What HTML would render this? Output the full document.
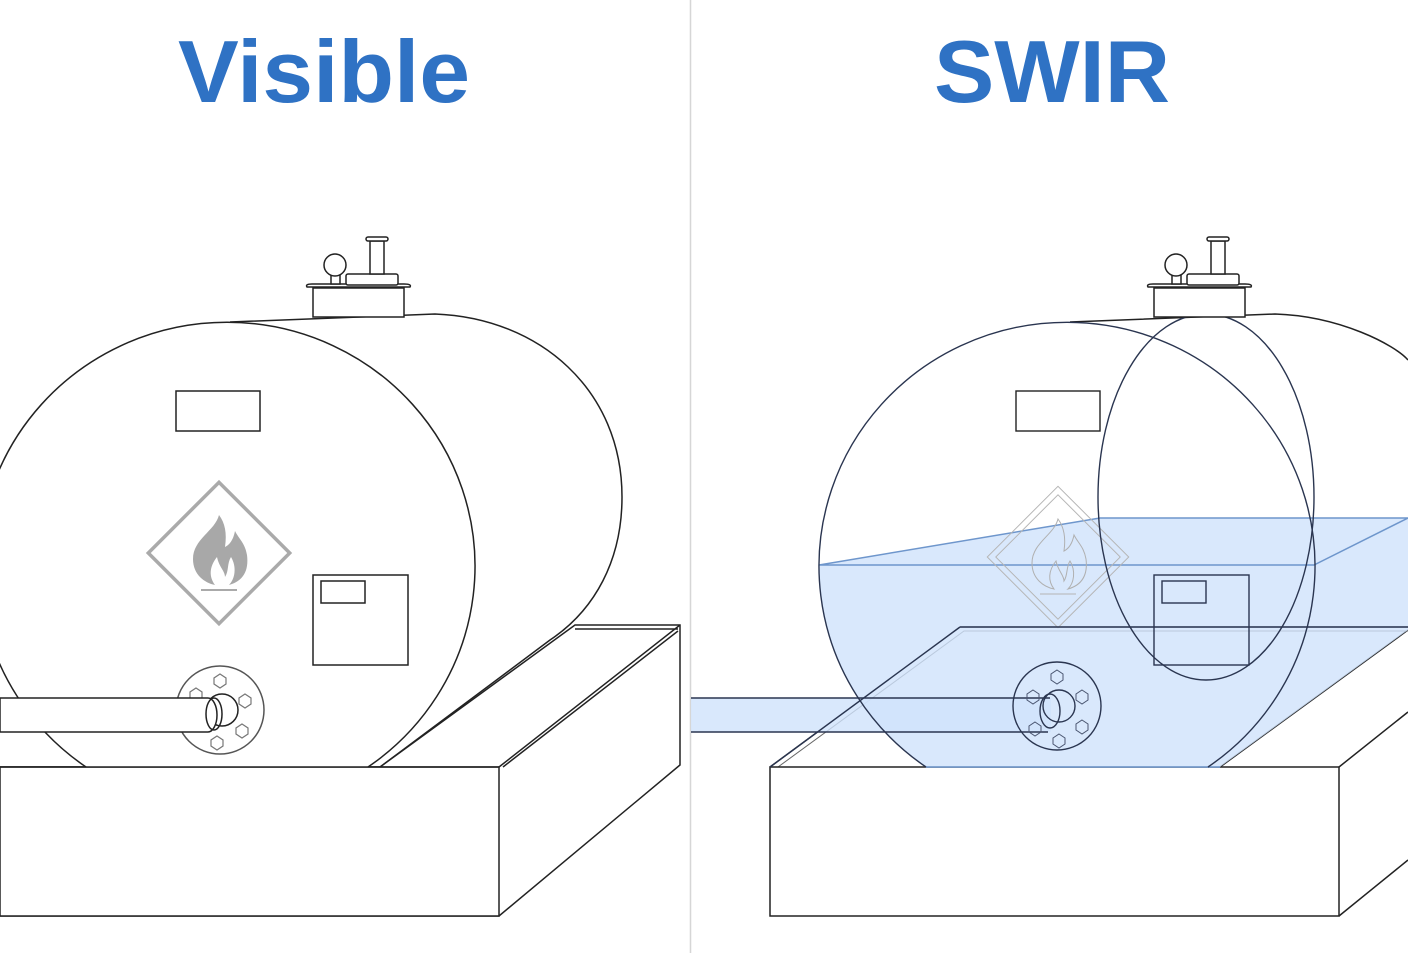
<!DOCTYPE html>
<html><head><style>
html,body{margin:0;padding:0;background:#fff;}
svg{display:block;}
</style></head><body>
<svg width="1408" height="953" viewBox="0 0 1408 953" xmlns="http://www.w3.org/2000/svg">
<defs>
<g id="flame">
<path d="M0,-38 C-4,-22 -26,-14 -26,6 C-26,22 -14,30 -4,32 C-10,24 -10,14 -2,4 C0,14 6,18 6,24 C10,18 8,10 12,4 C18,14 16,26 10,32 C24,28 30,18 28,2 C26,-10 20,-14 16,-22 C14,-12 10,-8 6,-6 C8,-20 6,-30 0,-38 Z"/>
</g>
</defs>
<rect width="1408" height="953" fill="#fff"/>
<line x1="690.5" y1="0" x2="690.5" y2="953" stroke="#d6d6d6" stroke-width="1.5"/>
<text x="178" y="102" textLength="292" lengthAdjust="spacingAndGlyphs" font-family="Liberation Sans, sans-serif" font-weight="bold" font-size="88" fill="#2f72c4">Visible</text>
<text x="934" y="102" textLength="236" lengthAdjust="spacingAndGlyphs" font-family="Liberation Sans, sans-serif" font-weight="bold" font-size="88" fill="#2f72c4">SWIR</text>

<!-- LEFT PANEL -->
<g fill="none" stroke="#222" stroke-width="1.5">
  <path d="M230,322 L435,314 C540,318 622,390 622,497 C622,560 595,610 550,640 L380,767" fill="#fff"/>
  <path d="M380,767 L575,625 L680,625 L680,765 L499,916 L0,916 L0,767 Z" fill="#fff"/>
  <path d="M499,767 L680,625 M575,629 L678,629 M503,767 L678,631" />
  <rect x="0" y="767" width="499" height="149" fill="#fff"/>
  <path d="M86,767 A248,244 0 1 1 368,767" fill="#fff"/>
  <line x1="0" y1="767" x2="499" y2="767"/>
  <rect x="176" y="391" width="84" height="40"/>
  <rect x="313" y="575" width="95" height="90"/>
  <rect x="321" y="581" width="44" height="22"/>
  <rect x="313" y="288" width="91" height="29" fill="#fff"/>
  <path d="M307,287 Q305,284 312,284 L404,284 Q412,284 410,287 Z" fill="#fff"/>
  <rect x="346" y="274" width="52" height="11" rx="2" fill="#fff"/>
  <rect x="370" y="241" width="14" height="33" fill="#fff"/>
  <rect x="366" y="237" width="22" height="4" rx="2" fill="#fff"/>
  <rect x="331" y="272" width="9" height="12" fill="#fff"/>
  <circle cx="335" cy="265" r="11" fill="#fff"/>
</g>
<g transform="translate(219,553)">
  <rect x="-50" y="-50" width="100" height="100" transform="rotate(45)" fill="#fff" stroke="#aaa" stroke-width="3.5"/>
  <use href="#flame" fill="#a8a8a8"/>
  <line x1="-18" y1="37" x2="18" y2="37" stroke="#aaa" stroke-width="2"/>
</g>
<g stroke="#222" stroke-width="1.5" fill="#fff">
  <circle cx="220" cy="710" r="44" stroke="#555"/>
  <g fill="none" stroke="#777" stroke-width="1.2">
    <polygon points="220,674 226,678 226,684 220,688 214,684 214,678"/>
    <polygon points="245,694 251,698 251,704 245,708 239,704 239,698"/>
    <polygon points="242,724 248,728 248,734 242,738 236,734 236,728"/>
    <polygon points="217,736 223,740 223,746 217,750 211,746 211,740"/>
    <polygon points="196,688 202,692 202,698 196,702 190,698 190,692"/>
  </g>
  <circle cx="222" cy="710" r="16"/>
  <path d="M0,698 L208,698 A9,17 0 0 1 208,732 L0,732 Z"/>
  <ellipse cx="214" cy="714" rx="8" ry="16" fill="none"/>
</g>

<!-- RIGHT PANEL -->
<g fill="none" stroke="#222" stroke-width="1.5">
  <path d="M1070,322 L1275,314 C1340,316 1395,345 1408,360"/>
  <path d="M1220,767 L1408,630"/>
  <path d="M770,767 L960,627 L1408,627"/>
  <path d="M778,767 L964,631 L1408,631" stroke="#666" stroke-width="1"/>
  <rect x="770" y="767" width="569" height="149" fill="#fff"/>
  <path d="M1339,767 L1408,712 M1339,916 L1408,860"/>
</g>
<path d="M819,565 L1100,518 L1408,518 L1408,630 L1220,767 L926,767 A248,244 0 0 1 819,565 Z" fill="#cfe2fb" fill-opacity="0.8" stroke="none"/>
<rect x="691" y="698" width="360" height="34" fill="#cfe2fb" fill-opacity="0.8"/>
<g fill="none" stroke="#6e96cc" stroke-width="1.5">
  <path d="M819,565 L1100,518 L1408,518 M819,565 L1314,565 L1408,518"/>
  <line x1="926" y1="767" x2="1220" y2="767"/>
</g>
<g transform="translate(1058,557)" fill="none" stroke="#b5b5b5" stroke-width="1">
  <rect x="-50" y="-50" width="100" height="100" transform="rotate(45)"/>
  <rect x="-44" y="-44" width="88" height="88" transform="rotate(45)"/>
  <use href="#flame" stroke="#b0b0b0"/>
  <line x1="-18" y1="37" x2="18" y2="37"/>
</g>
<g fill="none" stroke="#2a3550" stroke-width="1.4">
  <path d="M926,767 A248,244 0 1 1 1208,767"/>
  <ellipse cx="1206" cy="497" rx="108" ry="183"/>
  <rect x="1016" y="391" width="84" height="40" stroke="#222"/>
  <rect x="1154" y="575" width="95" height="90"/>
  <rect x="1162" y="581" width="44" height="22"/>
  <path d="M691,698 L1050,698 M691,732 L1048,732"/>
  <circle cx="1057" cy="706" r="44"/>
  <circle cx="1059" cy="706" r="16"/>
  <ellipse cx="1050" cy="711" rx="10" ry="17"/>
  <g stroke="#4a5570" stroke-width="1">
    <polygon points="1057,670 1063,674 1063,680 1057,684 1051,680 1051,674"/>
    <polygon points="1082,690 1088,694 1088,700 1082,704 1076,700 1076,694"/>
    <polygon points="1082,720 1088,724 1088,730 1082,734 1076,730 1076,724"/>
    <polygon points="1059,734 1065,738 1065,744 1059,748 1053,744 1053,738"/>
    <polygon points="1033,690 1039,694 1039,700 1033,704 1027,700 1027,694"/>
    <polygon points="1035,722 1041,726 1041,732 1035,736 1029,732 1029,726"/>
  </g>
  <path d="M960,627 L1408,627 M770,767 L960,627"/>
</g>
<g fill="#fff" stroke="#222" stroke-width="1.5">
  <rect x="1154" y="288" width="91" height="29"/>
  <path d="M1148,287 Q1146,284 1153,284 L1245,284 Q1253,284 1251,287 Z"/>
  <rect x="1187" y="274" width="52" height="11" rx="2"/>
  <rect x="1211" y="241" width="14" height="33"/>
  <rect x="1207" y="237" width="22" height="4" rx="2"/>
  <rect x="1172" y="272" width="9" height="12"/>
  <circle cx="1176" cy="265" r="11"/>
</g>
</svg>
</body></html>
